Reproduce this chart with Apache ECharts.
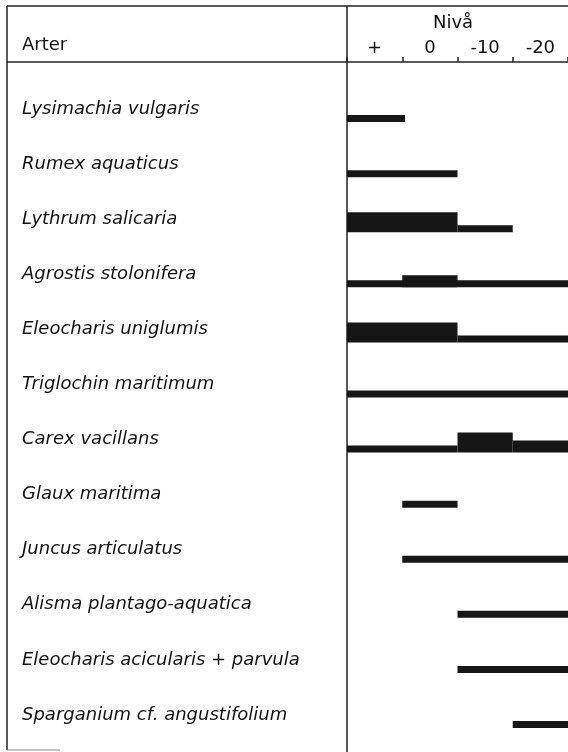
<!DOCTYPE html>
<html>
<head>
<meta charset="utf-8">
<style>
  html, body { margin: 0; padding: 0; background: #fff; }
  #main { width: 568px; height: 752px; }
</style>
</head>
<body>
<div id="main"></div>
<script src="https://cdn.jsdelivr.net/npm/echarts@6/dist/echarts.min.js"></script>
<script>
// arter (rader uppifrån och ned)
var arter = [
  'Lysimachia vulgaris',
  'Rumex aquaticus',
  'Lythrum salicaria',
  'Agrostis stolonifera',
  'Eleocharis uniglumis',
  'Triglochin maritimum',
  'Carex vacillans',
  'Glaux maritima',
  'Juncus articulatus',
  'Alisma plantago-aquatica',
  'Eleocharis acicularis + parvula',
  'Sparganium cf. angustifolium'
];
// nivåklasser (kolumner)
var nivaer = ['+', '0', '-10', '-20'];

// segment: radindex, start (kolumn), slut (kolumn), mängdklass 1-3
var segRad   = [0, 1, 2, 2, 3, 3, 4, 4, 5, 6, 6, 6, 7, 8, 9, 10, 11];
var segStart = [0, 0, 0, 2, 0, 1, 0, 2, 0, 0, 2, 3, 1, 1, 2, 2, 3];
var segSlut  = [1.05, 2, 2, 3, 4, 2, 2, 4, 4, 2, 3, 4, 2, 4, 4, 4, 4];
var segKlass = [1, 1, 3, 1, 1, 2, 3, 1, 1, 1, 3, 2, 1, 1, 1, 1, 1];

var segment = segRad.map(function (r, i) {
  return [segStart[i], segSlut[i], r, segKlass[i]];
});

var myChart = echarts.init(document.getElementById('main'));
var tjocklek = { 1: 7, 2: 12, 3: 20 };
var font = '"DejaVu Sans", "Liberation Sans", Arial, sans-serif';
var linje = { stroke: '#222', lineWidth: 1.5 };

var option = {
  animation: false,
  title: [
    { text: 'Arter', left: 22, top: 36, padding: 0, textStyle: { fontFamily: font, fontSize: 18, fontWeight: 'normal', color: '#111' } },
    { text: 'Nivå', left: 433, top: 14, padding: 0, textStyle: { fontFamily: font, fontSize: 18, fontWeight: 'normal', color: '#111' } }
  ],
  grid: { left: 347, top: 81.5, width: 223, height: 661 },
  xAxis: [
    { type: 'value', min: 0, max: 4, show: false },
    {
      type: 'category', data: nivaer, position: 'top', offset: 19.5, boundaryGap: true,
      axisLine: { show: false },
      axisTick: { show: true, length: 5, lineStyle: { color: '#222', width: 1.5 } },
      axisLabel: { margin: 5, fontFamily: font, fontSize: 18, color: '#111' }
    }
  ],
  yAxis: {
    type: 'category', data: arter, inverse: true,
    axisLine: { show: false }, axisTick: { show: false }, splitLine: { show: false },
    axisLabel: { margin: 325, align: 'left', fontFamily: font, fontSize: 18, fontStyle: 'italic', color: '#111' }
  },
  graphic: [
    { type: 'line', shape: { x1: 7, y1: 6, x2: 568, y2: 6 }, style: linje },
    { type: 'line', shape: { x1: 7, y1: 62, x2: 568, y2: 62 }, style: linje },
    { type: 'line', shape: { x1: 7, y1: 6, x2: 7, y2: 750 }, style: linje },
    { type: 'line', shape: { x1: 347, y1: 6, x2: 347, y2: 752 }, style: linje },
    { type: 'line', shape: { x1: 7, y1: 750, x2: 60, y2: 750 }, style: { stroke: '#888', lineWidth: 1 } }
  ],
  series: [{
    type: 'custom',
    xAxisIndex: 0,
    data: segment,
    encode: { x: [0, 1], y: 2 },
    renderItem: function (params, api) {
      var a = api.coord([api.value(0), api.value(2)]);
      var b = api.coord([api.value(1), api.value(2)]);
      var h = tjocklek[api.value(3)];
      var botten = a[1] + 13;
      return {
        type: 'rect',
        shape: { x: a[0], y: botten - h, width: b[0] - a[0], height: h },
        style: { fill: '#161616' }
      };
    }
  }]
};
myChart.setOption(option);
</script>
</body>
</html>
